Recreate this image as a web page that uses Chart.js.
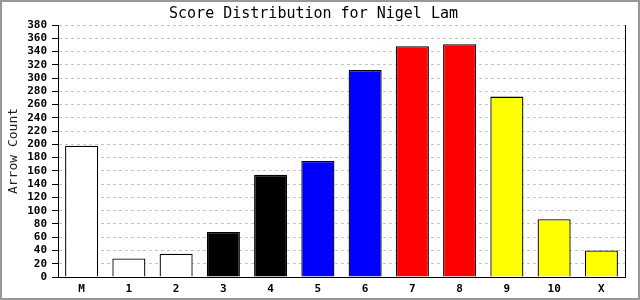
<!DOCTYPE html>
<html lang="en">
<head>
    <meta charset="UTF-8">
    <title>Score Distribution</title>
    <script src="https://cdn.jsdelivr.net/npm/chart.js"></script>
    <style>
        body { margin: 0; background: #fff; }
        .janela { width: 636px; height: 296px; border: 2px solid #999; background: #fff; }
    </style>
</head>
<body>
    <div class="janela">
        <canvas id="chartScores" width="636" height="296"></canvas>
    </div>

    <script>
        // dados
        const categorias = ['M', '1', '2', '3', '4', '5', '6', '7', '8', '9', '10', 'X'];
        const contagem = [198, 28, 35, 68, 154, 175, 312, 348, 351, 272, 87, 40];
        const yMax = 380;
        const yStep = 20;

        const mono = "'DejaVu Sans Mono', 'Liberation Mono', monospace";

        // linha vertical da direita do grafico
        const bordaDireita = {
            id: 'bordaDireita',
            afterDraw(chart) {
                const a = chart.chartArea;
                const ctx = chart.ctx;
                ctx.save();
                ctx.strokeStyle = '#000';
                ctx.lineWidth = 1;
                ctx.beginPath();
                ctx.moveTo(Math.round(a.right) + 0.5, a.top);
                ctx.lineTo(Math.round(a.right) + 0.5, a.bottom);
                ctx.stroke();
                ctx.restore();
            }
        };

        const ctx = document.getElementById('chartScores').getContext('2d');
        new Chart(ctx, {
            type: 'bar',
            data: {
                labels: categorias,
                datasets: [{
                    label: 'Arrow Count',
                    data: contagem,
                    backgroundColor: [
                        '#ffffff', '#ffffff', '#ffffff',
                        '#000000', '#000000',
                        '#0000ff', '#0000ff',
                        '#ff0000', '#ff0000',
                        '#ffff00', '#ffff00', '#ffff00'
                    ],
                    borderColor: '#000',
                    borderWidth: 1.3,
                    categoryPercentage: 1,
                    barPercentage: 0.7
                }]
            },
            options: {
                responsive: false,
                animation: false,
                layout: { padding: { left: 0, right: 13, top: 0, bottom: 0 } },
                plugins: {
                    legend: { display: false },
                    tooltip: { enabled: false },
                    title: {
                        display: true,
                        text: 'Score Distribution for Nigel Lam',
                        color: '#000',
                        font: { family: mono, size: 15, weight: 'normal' },
                        padding: { top: 3, bottom: 2 }
                    }
                },
                scales: {
                    x: {
                        afterFit: s => { s.height = 21; },
                        grid: { display: false, drawTicks: false },
                        border: { color: '#000', width: 1 },
                        ticks: {
                            color: '#000',
                            padding: 6,
                            autoSkip: false,
                            maxRotation: 0,
                            font: { family: mono, size: 11, weight: 'bold' }
                        }
                    },
                    y: {
                        min: 0,
                        max: yMax,
                        afterFit: s => { s.width = 56; },
                        grid: {
                            color: '#c4c4c4',
                            tickColor: '#000',
                            tickLength: 6,
                            tickBorderDash: []
                        },
                        border: { color: '#000', width: 1, dash: [3, 3] },
                        ticks: {
                            stepSize: yStep,
                            maxTicksLimit: 30,
                            autoSkip: false,
                            color: '#000',
                            padding: 5,
                            font: { family: mono, size: 11, weight: 'bold', lineHeight: 1 }
                        },
                        title: {
                            display: true,
                            text: 'Arrow Count',
                            color: '#222',
                            font: { family: mono, size: 13, weight: 'normal' },
                            padding: { top: 4, bottom: 0 }
                        }
                    }
                }
            },
            plugins: [bordaDireita]
        });
    </script>
</body>
</html>
